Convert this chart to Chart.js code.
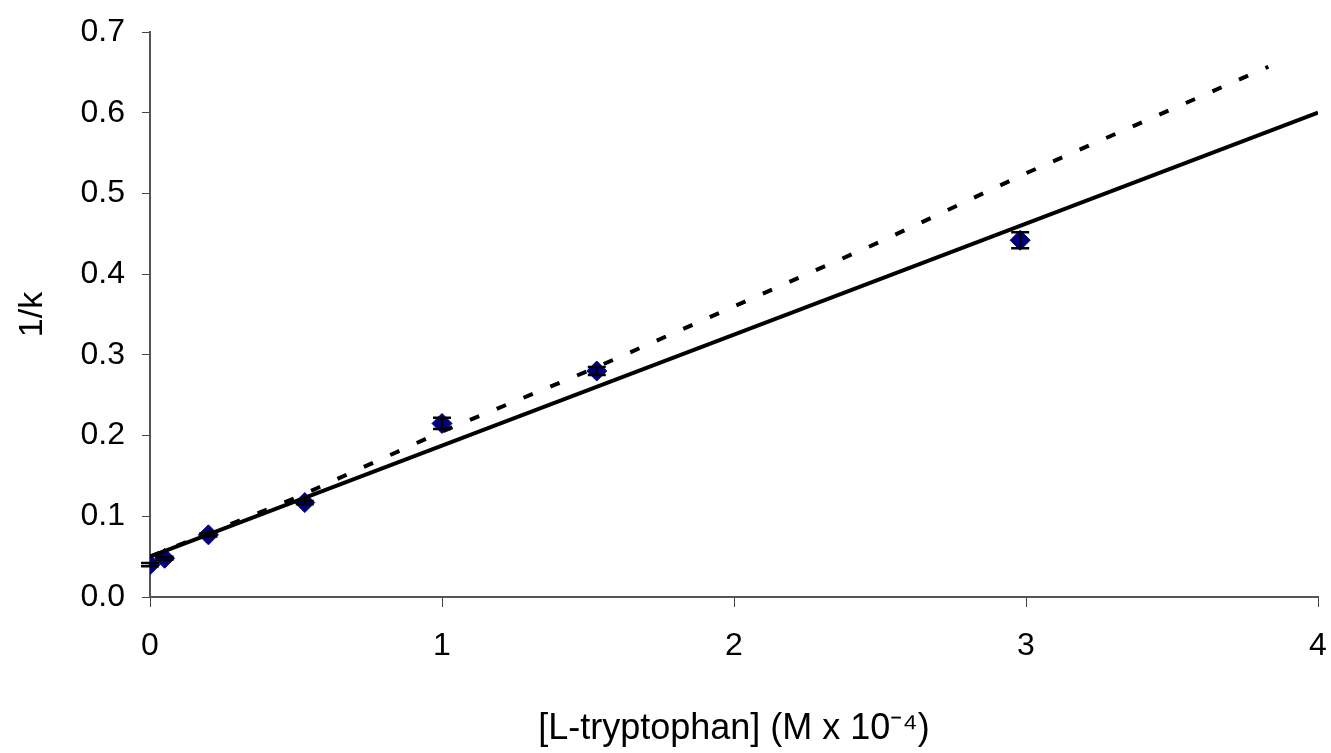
<!DOCTYPE html>
<html>
<head>
<meta charset="utf-8">
<script src="https://cdn.jsdelivr.net/npm/chart.js@4"></script>
<style>
  html, body { margin: 0; padding: 0; background: #fff; }
  #wrap { width: 1331px; height: 753px; }
</style>
</head>
<body>
<div id="wrap"><canvas id="graphCanvas" width="1331" height="753"></canvas></div>
<script>
// measured points
const trpConc = [0, 0.05, 0.2, 0.53, 1.0, 1.53, 2.98];
const invK = [0.04, 0.048, 0.077, 0.117, 0.215, 0.28, 0.442];
const invKErr = [0.002, 0.002, 0.002, 0.002, 0.007, 0.005, 0.01];

// linear fit (solid)
const fitX = [0, 4];
const fitY = [0.05, 0.6];

// dashed curve
const dashX = [0, 0.5, 1.0, 1.5, 2.0, 2.5, 3.0, 3.83];
const dashY = [0.05, 0.123, 0.205, 0.28, 0.36, 0.44, 0.525, 0.657];

const xTicks = [0, 1, 2, 3, 4];
const yTicks = [0, 0.1, 0.2, 0.3, 0.4, 0.5, 0.6, 0.7];

const toXY = (xs, ys) => xs.map((x, i) => ({ x: x, y: ys[i] }));

// error bars drawn through the scales
const errorBars = {
  id: "errorBars",
  afterDatasetsDraw(chart) {
    const ctx = chart.ctx;
    const xs = chart.scales.x;
    const ys = chart.scales.y;
    ctx.save();
    ctx.strokeStyle = "#000";
    ctx.lineWidth = 2.5;
    trpConc.forEach((x, i) => {
      const px = xs.getPixelForValue(x);
      const top = ys.getPixelForValue(invK[i] + invKErr[i]);
      const bot = ys.getPixelForValue(invK[i] - invKErr[i]);
      ctx.beginPath();
      ctx.moveTo(px, top); ctx.lineTo(px, bot);
      ctx.moveTo(px - 9, top); ctx.lineTo(px + 9, top);
      ctx.moveTo(px - 9, bot); ctx.lineTo(px + 9, bot);
      ctx.stroke();
    });
    ctx.restore();
  },
};

Chart.defaults.font.family = "'Liberation Sans', Arial, sans-serif";
Chart.defaults.color = "#000";

new Chart(document.getElementById("graphCanvas").getContext("2d"), {
  type: "scatter",
  data: {
    datasets: [
      {
        label: "fit",
        type: "line",
        data: toXY(fitX, fitY),
        borderColor: "#000",
        borderWidth: 4,
        pointRadius: 0,
        fill: false,
      },
      {
        label: "dashed",
        type: "line",
        data: toXY(dashX, dashY),
        borderColor: "#000",
        borderWidth: 4,
        borderDash: [10, 19],
        pointRadius: 0,
        fill: false,
      },
      {
        label: "1/k",
        data: toXY(trpConc, invK),
        pointStyle: "rectRot",
        pointRadius: 10,
        backgroundColor: "#000080",
        borderColor: "#000080",
      },
    ],
  },
  options: {
    responsive: false,
    animation: false,
    layout: { padding: { top: 32, right: 13, left: 0, bottom: 0 } },
    plugins: { legend: { display: false }, tooltip: { enabled: false } },
    scales: {
      x: {
        type: "linear",
        min: 0,
        max: 4,
        afterBuildTicks: (s) => { s.ticks = xTicks.map((v) => ({ value: v })); },
        afterFit: (s) => { s.height = 156; s.paddingLeft = 0; s.paddingRight = 0; },
        ticks: { padding: 20, font: { size: 32 } },
        grid: { drawOnChartArea: false, drawTicks: true, tickLength: 10, color: "#444" },
        border: { color: "#555", width: 2 },
        title: {
          display: true,
          text: "[L-tryptophan] (M x 10\u207B\u2074)",
          font: { size: 36 },
          padding: { top: 0, bottom: 2 },
        },
      },
      y: {
        min: 0,
        max: 0.7,
        afterBuildTicks: (s) => { s.ticks = yTicks.map((v) => ({ value: v })); },
        afterFit: (s) => { s.width = 150; s.paddingTop = 0; s.paddingBottom = 0; },
        ticks: { padding: 17, font: { size: 32 }, callback: (v) => v.toFixed(1) },
        grid: { drawOnChartArea: false, drawTicks: true, tickLength: 8, color: "#444" },
        border: { color: "#555", width: 2 },
        title: {
          display: true,
          text: "1/k",
          font: { size: 34 },
          padding: { top: 12, bottom: 0 },
        },
      },
    },
  },
  plugins: [errorBars],
});
</script>
</body>
</html>
